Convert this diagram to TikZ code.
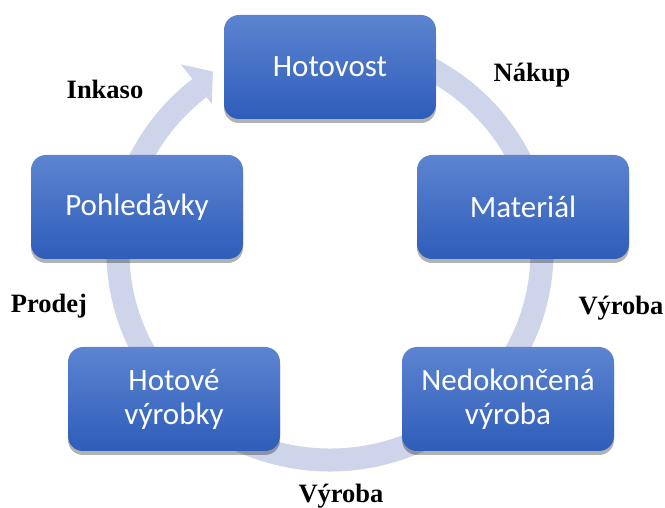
\documentclass[tikz,border=0pt]{standalone}
\usepackage{fontspec}
\newfontfamily\boxfont{Carlito}
\newfontfamily\stepfont{Liberation Serif}
\usetikzlibrary{shadows}

\definecolor{ringblue}{RGB}{206,212,234}
\definecolor{boxtop}{RGB}{92,132,208}
\definecolor{boxbottom}{RGB}{46,93,186}

\begin{document}
\begin{tikzpicture}
[x=1pt, y=1pt,
stage/.style = {rectangle, rounded corners=15pt, minimum width=212pt, minimum height=104pt,
                top color=boxtop, bottom color=boxbottom, text=white, align=center,
                font=\boxfont\fontsize{31}{34}\selectfont,
                drop shadow={shadow xshift=0pt, shadow yshift=-4pt, opacity=.3, fill=black}},
flowlabel/.style = {anchor=base, text=black, font=\stepfont\bfseries\fontsize{26.5}{29}\selectfont},
ring/.style = {ringblue, line width=23pt}]
\useasboundingbox (0,0) rectangle (665,508);
\coordinate (hub) at (330,256);

% the cycle arrow behind the boxes
\draw[ring] ([shift={(80:212 and 208)}]hub) arc[start angle=80, end angle=-232, x radius=212, y radius=208];
\fill[ringblue, shift={(hub)}] (128:242 and 238) -- (122.5:218 and 214) -- (128:192 and 188) -- cycle;

\node[stage] (cash)     at (330,441) {Hotovost};
\node[stage] (material) at (523,301) {Materiál};
\node[stage] (wip)      at (508,109) {Nedokončená\\výroba};
\node[stage] (goods)    at (174,109) {Hotové\\výrobky};
\node[stage] (debts)    at (137,301) {Pohledávky};

\node[flowlabel] (buy)     at (532,426) {Nákup};
\node[flowlabel] (make1)   at (621,193) {Výroba};
\node[flowlabel] (make2)   at (341,5)   {Výroba};
\node[flowlabel] (sell)    at (49,195)  {Prodej};
\node[flowlabel] (collect) at (105,409) {Inkaso};
\end{tikzpicture}
\end{document}
